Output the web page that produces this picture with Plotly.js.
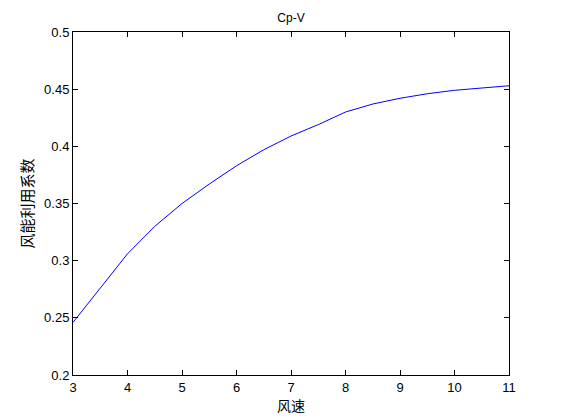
<!DOCTYPE html>
<html>
<head>
<meta charset="utf-8">
<script src="https://cdn.plot.ly/plotly-3.0.1.min.js"></script>
<style>html,body{margin:0;padding:0;background:#fff;}#chart{width:561px;height:420px;}</style>
</head>
<body>
<div id="chart"></div>
<script>
const windSpeed = [3, 3.5, 4, 4.5, 5, 5.5, 6, 6.5, 7, 7.5, 8, 8.5, 9, 9.5, 10, 10.5, 11];
const cpValues = [0.246, 0.276, 0.306, 0.330, 0.350, 0.367, 0.383, 0.397, 0.409, 0.419, 0.430, 0.437, 0.442, 0.446, 0.449, 0.451, 0.453];
const xTicks = [3, 4, 5, 6, 7, 8, 9, 10, 11];
const yTicks = [0.2, 0.25, 0.3, 0.35, 0.4, 0.45, 0.5];
const yTickText = ['0.2', '0.25', '0.3', '0.35', '0.4', '0.45', '0.5'];

const fontFam = 'Liberation Sans, Arial, sans-serif';
const cjk = 'Noto Sans CJK SC, sans-serif';

Plotly.newPlot('chart', [{
  x: windSpeed, y: cpValues, type: 'scatter', mode: 'lines',
  line: {color: '#0000ff', width: 1}
}], {
  width: 561, height: 420,
  margin: {l: 73, r: 52, t: 32, b: 45},
  paper_bgcolor: '#fff', plot_bgcolor: '#fff',
  showlegend: false,
  title: {text: 'Cp-V', font: {family: fontFam, size: 12, color: '#000'}, x: 0.5187, xanchor: 'center', y: 0.957, yanchor: 'middle'},
  xaxis: {
    range: [3, 11], tickvals: xTicks, ticktext: xTicks.map(String),
    ticks: 'inside', ticklen: 5, tickcolor: '#000', tickwidth: 1,
    showline: true, linecolor: '#000', linewidth: 1, mirror: 'ticks',
    showgrid: false, zeroline: false,
    tickfont: {family: fontFam, size: 13, color: '#000'},
    title: {text: '风速', font: {family: cjk, size: 14, color: '#000'}, standoff: 2}
  },
  yaxis: {
    range: [0.2, 0.5], tickvals: yTicks, ticktext: yTickText,
    ticks: 'inside', ticklen: 5, tickcolor: '#000', tickwidth: 1,
    showline: true, linecolor: '#000', linewidth: 1, mirror: 'ticks',
    showgrid: false, zeroline: false,
    tickfont: {family: fontFam, size: 13, color: '#000'},
    title: {text: '风能利用系数', font: {family: cjk, size: 15, color: '#000'}, standoff: 6}
  }
}, {displayModeBar: false, staticPlot: true});
</script>
</body>
</html>
